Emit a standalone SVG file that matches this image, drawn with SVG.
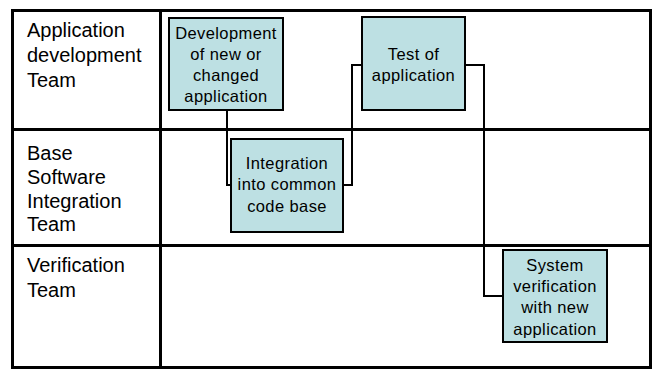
<svg xmlns="http://www.w3.org/2000/svg" width="653" height="370" viewBox="0 0 653 370">
<style>
.lane{fill:none;stroke:#000;stroke-width:3}
.lt{font-family:"Liberation Sans",Arial,sans-serif;font-size:20px;fill:#000}
.box{fill:#BDE0E3;stroke:#000;stroke-width:2}
.bt{font-family:"Liberation Sans",Arial,sans-serif;font-size:16.5px;letter-spacing:0.4px;fill:#000;text-anchor:middle}
.c{fill:none;stroke:#000;stroke-width:2}
</style>
<rect width="653" height="370" fill="#fff"/>
<g id="lanes">
<rect class="lane" x="12.5" y="10.5" width="638" height="357"/>
<line class="lane" x1="160.5" y1="10.5" x2="160.5" y2="367.5"/>
<line class="lane" x1="12.5" y1="129.5" x2="650.5" y2="129.5"/>
<line class="lane" x1="12.5" y1="245.5" x2="650.5" y2="245.5"/>
</g>
<g id="lane-labels">
<text class="lt" x="27" y="37">Application</text>
<text class="lt" x="27" y="62">development</text>
<text class="lt" x="27" y="87">Team</text>
<text class="lt" x="27" y="160">Base</text>
<text class="lt" x="27" y="184">Software</text>
<text class="lt" x="27" y="208">Integration</text>
<text class="lt" x="27" y="231">Team</text>
<text class="lt" x="27" y="272">Verification</text>
<text class="lt" x="27" y="297">Team</text>
</g>
<g id="connectors">
<polyline class="c" points="227,110 227,185 231,185"/>
<polyline class="c" points="343,185 352,185 352,65 362,65"/>
<polyline class="c" points="465,65 484,65 484,296 503,296"/>
</g>
<g id="n1">
<rect class="box" x="169" y="18" width="114" height="92"/>
<text class="bt" x="226" y="39">Development</text>
<text class="bt" x="226" y="60">of new or</text>
<text class="bt" x="226" y="81">changed</text>
<text class="bt" x="226" y="102">application</text>
</g>
<g id="n2">
<rect class="box" x="362" y="17" width="103" height="93"/>
<text class="bt" x="413.5" y="60">Test of</text>
<text class="bt" x="413.5" y="81">application</text>
</g>
<g id="n3">
<rect class="box" x="231" y="139" width="112" height="93"/>
<text class="bt" x="287" y="169">Integration</text>
<text class="bt" x="287" y="190">into common</text>
<text class="bt" x="287" y="212">code base</text>
</g>
<g id="n4">
<rect class="box" x="503" y="250" width="104" height="92"/>
<text class="bt" x="555" y="271">System</text>
<text class="bt" x="555" y="292">verification</text>
<text class="bt" x="555" y="313">with new</text>
<text class="bt" x="555" y="335">application</text>
</g>
</svg>
